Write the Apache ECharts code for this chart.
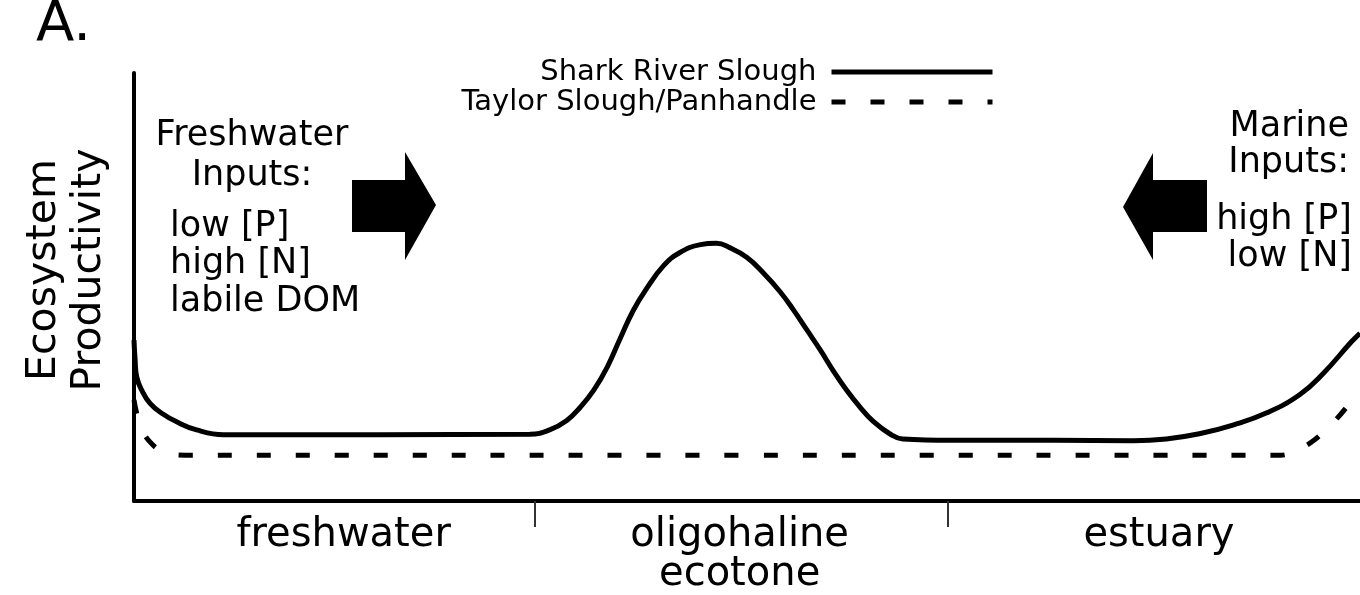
<!DOCTYPE html>
<html>
<head>
<meta charset="utf-8">
<script src="https://cdn.jsdelivr.net/npm/echarts@6/dist/echarts.min.js"></script>
<style>html,body{margin:0;padding:0;background:#fff}#c{width:1360px;height:595px}</style>
</head>
<body>
<div id="c"></div>
<script>
// Position along the freshwater -> marine gradient (0-100) and relative productivity (0-100)
const sharkX = [0, 0.08, 0.22, 0.63, 1.31, 2.26, 3.48, 5.11, 7.3, 20, 32.3, 33.9, 35.3, 36.4, 37.5, 38.6, 39.6, 40.7, 41.8, 43.2, 44.5, 46.2, 47.5, 48.6, 50.0, 51.3, 52.7, 53.8, 54.9, 56.0, 57.0, 58.1, 59.2, 60.3, 61.7, 62.7, 66.6, 75, 81.5, 84.2, 86.9, 89.7, 92.4, 95.1, 97.0, 99.3, 100];
const sharkY = [37.6, 33.4, 29.0, 25.9, 22.8, 20.5, 18.5, 16.6, 15.5, 15.5, 15.6, 16.6, 18.8, 21.9, 25.9, 31.3, 37.6, 44.4, 49.6, 55.0, 58.0, 59.9, 60.2, 59.2, 56.9, 53.4, 48.9, 44.6, 39.9, 35.2, 30.6, 26.0, 22.0, 18.6, 15.6, 14.5, 14.2, 14.2, 14.1, 14.5, 15.7, 17.8, 20.6, 24.9, 29.8, 37.2, 39.2];
const taylorX = [0, 0.49, 1.3, 2.5, 4.2, 50, 93.5, 94.7, 96.3, 98.0, 99.4, 100];
const taylorY = [23.6, 17.8, 13.8, 11.4, 10.7, 10.7, 10.7, 11.7, 14.3, 18.9, 23.6, 25.5];
const seriesNames = ['Shark River Slough', 'Taylor Slough/Panhandle'];
const regionNames = ['freshwater', 'oligohaline\necotone', 'estuary'];
const regionBounds = [32.7, 66.4];
const regionLabelPos = [17.1, 49.4, 83.6];
const yAxisName = 'Ecosystem\nProductivity';
const panelLabel = 'A.';
const freshTitle = 'Freshwater\nInputs:';
const freshItems = 'low [P]\nhigh [N]\nlabile DOM';
const marineTitle = 'Marine\nInputs:';
const marineItems = 'high [P]\nlow [N]';

const FONT = 'DejaVu Sans';
const zip = (xs, ys) => xs.map((x, i) => [x, ys[i]]);

const chart = echarts.init(document.getElementById('c'), null, {renderer: 'canvas'});
chart.setOption({
  animation: false,
  backgroundColor: '#fff',
  textStyle: {fontFamily: FONT, color: '#000'},
  title: {
    text: panelLabel, left: 31, top: -8,
    textStyle: {fontFamily: FONT, fontSize: 56, fontWeight: 'normal', color: '#000'}
  },
  legend: {
    orient: 'vertical', right: 360, top: 52, align: 'right',
    itemWidth: 161, itemHeight: 1, itemGap: 0,
    data: seriesNames,
    selectedMode: false,
    lineStyle: {width: 5},
    textStyle: {fontFamily: FONT, fontSize: 29, lineHeight: 22, color: '#000', padding: [0, 10, 8, 0]}
  },
  grid: {left: 134, right: 0, top: 73, bottom: 94, containLabel: false, outerBoundsMode: 'none'},
  xAxis: {
    type: 'value', min: 0, max: 100,
    axisLine: {show: true, onZero: false, lineStyle: {color: '#000', width: 4}},
    axisTick: {show: true, customValues: regionBounds, length: 26, lineStyle: {color: '#333', width: 2}},
    axisLabel: {
      show: true, customValues: regionLabelPos, margin: 15,
      fontFamily: FONT, fontSize: 40, lineHeight: 39, color: '#000',
      formatter: function (v) {
        let best = 0;
        regionLabelPos.forEach((p, i) => { if (Math.abs(p - v) < Math.abs(regionLabelPos[best] - v)) best = i; });
        return regionNames[best];
      }
    },
    splitLine: {show: false}
  },
  yAxis: {
    type: 'value', min: 0, max: 100,
    name: yAxisName, nameLocation: 'middle', nameRotate: 90, nameGap: 22,
    nameTextStyle: {fontFamily: FONT, fontSize: 41, lineHeight: 45, color: '#000', padding: [0, 0, 0, 34]},
    axisLine: {show: true, onZero: false, lineStyle: {color: '#000', width: 4}},
    axisTick: {show: false},
    axisLabel: {show: false},
    splitLine: {show: false}
  },
  series: [
    {
      name: seriesNames[0], type: 'line', data: zip(sharkX, sharkY),
      symbol: 'none', smooth: 0.45, clip: false,
      lineStyle: {color: '#000', width: 5}, itemStyle: {color: '#000'}
    },
    {
      name: seriesNames[1], type: 'line', data: zip(taylorX, taylorY),
      symbol: 'none', smooth: 0.4, clip: false,
      lineStyle: {color: '#000', width: 5, type: [14, 25]}, itemStyle: {color: '#000'}
    }
  ],
  graphic: [
    {type: 'text', x: 252, y: 116, style: {text: freshTitle, font: '35px "DejaVu Sans"', fill: '#000', align: 'center', verticalAlign: 'top', lineHeight: 40}},
    {type: 'text', x: 170, y: 208, style: {text: freshItems, font: '35px "DejaVu Sans"', fill: '#000', align: 'left', verticalAlign: 'top', lineHeight: 37.5}},
    {type: 'text', x: 1349, y: 109, style: {text: marineTitle, font: '35px "DejaVu Sans"', fill: '#000', align: 'right', verticalAlign: 'top', lineHeight: 36}},
    {type: 'text', x: 1352, y: 201, style: {text: marineItems, font: '35px "DejaVu Sans"', fill: '#000', align: 'right', verticalAlign: 'top', lineHeight: 37}},
    {type: 'polygon', shape: {points: [[352, 180], [405, 180], [405, 152], [436, 205], [405, 260], [405, 232], [352, 232]]}, style: {fill: '#000'}},
    {type: 'polygon', shape: {points: [[1207, 180], [1153, 180], [1153, 153], [1123, 207], [1153, 260], [1153, 232], [1207, 232]]}, style: {fill: '#000'}}
  ]
});
</script>
</body>
</html>
